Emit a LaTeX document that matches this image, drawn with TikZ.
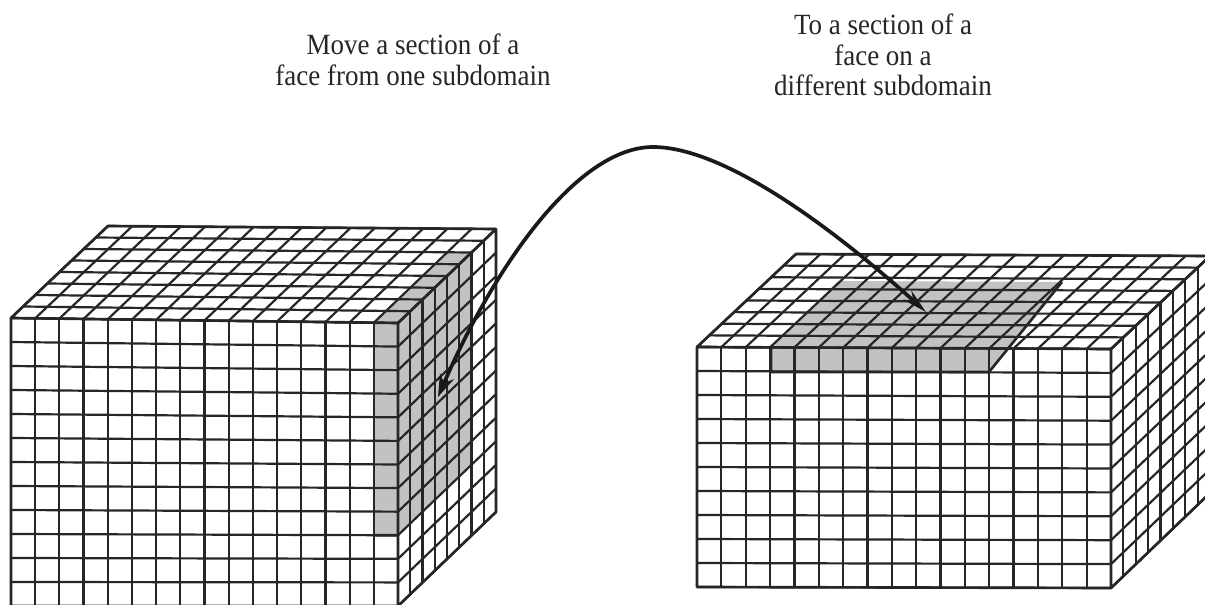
\documentclass[tikz,border=0pt]{standalone}
\usepackage{fontspec}
\setmainfont[FakeStretch=0.92]{Liberation Serif}
\usepackage{xcolor}
\usetikzlibrary{arrows.meta,calc}

\newcommand{\gridface}[6]{%
  \foreach \i in {0,...,#5} \draw[gridline] ($(#1)!{\i/#5}!(#2)$) -- ($(#4)!{\i/#5}!(#3)$);
  \foreach \j in {0,...,#6} \draw[gridline] ($(#1)!{\j/#6}!(#4)$) -- ($(#2)!{\j/#6}!(#3)$);
}

\begin{document}
\begin{tikzpicture}[
  x=0.02cm, y=-0.02cm,
  font=\fontsize{16.7}{17.4}\selectfont,
  gridline/.style={draw=black!85, line width=1.25pt},
  rim/.style={draw=black!85, line width=1.5pt, line join=round},
  shaded/.style={fill=black!24},
  lab/.style={align=center, inner sep=0pt, text=black!85},
  arr/.style={{Stealth[length=4.5mm,width=3mm]}-{Stealth[length=5mm,width=2.4mm]}, line width=2.1pt, draw=black!90}
]
\clip (0,0) rectangle (1205,605);
\fill[white] (0,0) rectangle (1205,605);

% corners of the left block
\coordinate (la) at (11,318);
\coordinate (lb) at (398,323);
\coordinate (lc) at (398,606);
\coordinate (ld) at (11,606);
\coordinate (le) at (108,226);
\coordinate (lf) at (496,229);
\coordinate (lg) at (496,512);

% corners of the right block
\coordinate (ra) at (697,347);
\coordinate (rb) at (1111,349);
\coordinate (rc) at (1111,588);
\coordinate (rd) at (697,587);
\coordinate (re) at (796,254);
\coordinate (rf) at (1210,256);
\coordinate (rg) at (1210,493);

% shaded section, left block
\fill[shaded] ($(la)!{15/16}!(lb)$) -- (lb) -- ($(lb)!{6/8}!(lf)$) -- ($($(la)!{15/16}!(lb)$)!{6/8}!($(le)!{15/16}!(lf)$)$) -- cycle;
\fill[shaded] ($(la)!{15/16}!(lb)$) -- (lb) -- ($(lb)!{9/12}!(lc)$) -- ($($(la)!{15/16}!(lb)$)!{9/12}!($(ld)!{15/16}!(lc)$)$) -- cycle;
\fill[shaded] (lb) -- ($(lb)!{6/8}!(lf)$) -- ($($(lb)!{6/8}!(lf)$)!{9/12}!($(lc)!{6/8}!(lg)$)$) -- ($(lb)!{9/12}!(lc)$) -- cycle;

% shaded section, right block
\coordinate (sa) at (771,348);
\coordinate (sb) at (771,372);
\coordinate (sc) at (989,372);
\coordinate (sd) at (1062,282);
\coordinate (se) at (838,281);
\fill[shaded] (sa) -- (sb) -- (sc) -- (sd) -- (se) -- cycle;

\gridface{le}{lf}{lb}{la}{16}{8}
\gridface{la}{lb}{lc}{ld}{16}{12}
\gridface{lb}{lf}{lg}{lc}{8}{12}
\gridface{re}{rf}{rb}{ra}{17}{8}
\gridface{ra}{rb}{rc}{rd}{17}{10}
\gridface{rb}{rf}{rg}{rc}{8}{10}

\draw[rim] (la) -- (le) -- (lf) -- (lg) -- (lc) -- (ld) -- cycle (la) -- (lb) -- (lf) (lb) -- (lc);
\draw[rim] (ra) -- (re) -- (rf) -- (rg) -- (rc) -- (rd) -- cycle (ra) -- (rb) -- (rf) (rb) -- (rc);
\draw[rim] (sa) -- (sb) -- (sc) -- (sd);
\draw[rim] ($(lb)!{9/12}!(lc)$) -- ($($(la)!{15/16}!(lb)$)!{9/12}!($(ld)!{15/16}!(lc)$)$);

\node[lab] (movetxt) at (413,60) {Move a section of a\\ face from one subdomain};
\node[lab] (totxt) at (883,55) {To a section of a\hspace{3pt}\\ face on a\\ different subdomain};

\coordinate (from) at (438,397);
\coordinate (apex) at (653,147);
\coordinate (to) at (926,312);
\draw[arr] (from) .. controls (495,265) and (578,147) .. (apex) .. controls (725,147) and (835,230) .. (to);
\end{tikzpicture}
\end{document}
